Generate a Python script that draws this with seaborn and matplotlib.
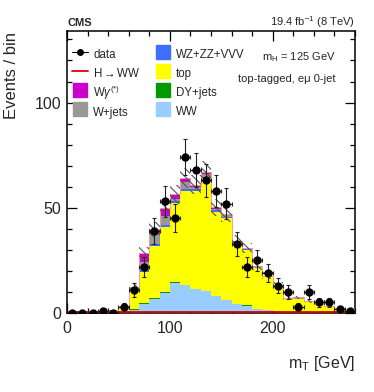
import numpy as np
import pandas as pd
import matplotlib
matplotlib.use("Agg")
import matplotlib.pyplot as plt
import seaborn as sns
from matplotlib.lines import Line2D
from matplotlib.ticker import MultipleLocator

# ---------------- data ----------------
bin_edges = list(range(0, 290, 10))
data_counts = [0, 0, 0, 1, 0, 3, 11, 22, 39, 53, 45, 74, 68, 63, 58, 52,
               33, 22, 25, 19, 13, 10, 3, 10, 5, 5, 2, 1]
data_err = [0, 0, 0, 1.0, 0, 1.7, 3.3, 4.7, 6.2, 7.3, 6.7, 8.6, 8.2, 7.9, 7.6, 7.2,
            5.7, 4.7, 5.0, 4.4, 3.6, 3.2, 1.7, 3.2, 2.2, 2.2, 1.4, 1.0]
ww = [0, 0, 0, 0.05, 0.1, 0.3, 1.2, 4.1, 6.5, 9.4, 14.1, 13.2, 11.3, 10.3, 8.1, 6.2,
      4.4, 3.5, 2.0, 1.5, 0.8, 0.6, 0.5, 0.4, 0.3, 0.3, 0.2, 0.2]
dy = [0, 0, 0, 0, 0, 0.1, 0.5, 0.8, 0.6, 0.5, 0.4, 0.3, 0.3, 0.2, 0.2, 0.2,
      0.1, 0.1, 0.1, 0.1, 0.1, 0.1, 0.1, 0.1, 0.1, 0.1, 0.1, 0.1]
top = [0.1, 0.1, 0.2, 0.4, 1.0, 2.6, 9.6, 14.5, 24.5, 30.9, 37.7, 44.6, 46.6, 53.7, 39.9, 38.8,
       28.8, 26.3, 19.3, 15.5, 12.0, 6.1, 6.1, 4.7, 3.7, 2.8, 2.0, 1.5]
wz = [0, 0, 0, 0, 0, 0.05, 0.2, 1.1, 1.3, 1.1, 0.8, 0.9, 0.7, 0.6, 0.6, 0.6,
      0.3, 0.3, 0.2, 0.2, 0.1, 0.1, 0.1, 0.1, 0.1, 0.1, 0.05, 0.05]
wjets = [0, 0, 0, 0, 0.05, 0.1, 0.5, 3.9, 4.6, 4.0, 1.1, 3.2, 0.8, 1.3, 0.6, 0.6,
         0.3, 0.3, 0.2, 0.2, 0.2, 0.1, 0.1, 0.1, 0.1, 0.1, 0.1, 0.1]
wgamma = [0, 0, 0, 0.05, 0.05, 0.1, 0.5, 4.0, 2.3, 3.9, 2.4, 1.9, 1.3, 0.9, 0.9, 0.6,
          0.5, 0.5, 0.4, 0.3, 0.3, 0.2, 0.6, 0.2, 0.2, 0.1, 0.1, 0.1]
hww = [0.3, 0.3, 0.3, 0.3, 0.3, 0.3, 0.4, 0.4, 0.4, 0.4, 0.4, 0.4, 0.4, 0.4, 0.4, 0.4,
       0.3, 0.3, 0.3, 0.3, 0.3, 0.3, 0.3, 0.3, 0.3, 0.3, 0.3, 0.3]
mc_unc = [0.05, 0.05, 0.1, 0.2, 0.3, 0.6, 1.5, 3.0, 3.6, 4.2, 4.5, 4.8, 4.6, 5.0, 4.0, 3.6,
          2.8, 2.5, 1.9, 1.6, 1.3, 0.8, 0.8, 0.7, 0.6, 0.5, 0.4, 0.3]

processes = ["WW", "DY+jets", "top", "WZ+ZZ+VVV", "W+jets", "W$\\gamma^{(*)}$"]
proc_values = [ww, dy, top, wz, wjets, wgamma]
proc_colors = ["#99ccff", "#009900", "#ffff00", "#3f6fff", "#999999", "#cc00cc"]

# ---------------- style ----------------
sns.set_theme(style="ticks")
plt.rcParams["font.family"] = ["Liberation Sans", "DejaVu Sans"]
plt.rcParams["mathtext.fontset"] = "custom"
plt.rcParams["mathtext.rm"] = "Liberation Sans"
plt.rcParams["mathtext.it"] = "Liberation Sans:italic"
plt.rcParams["hatch.linewidth"] = 0.8

edges = np.array(bin_edges, dtype=float)
centers = 0.5 * (edges[:-1] + edges[1:])
width = edges[1] - edges[0]

rows = []
for name, vals in zip(processes, proc_values):
    for c, v in zip(centers, vals):
        rows.append({"mT": float(c), "w": float(v), "process": name})
df = pd.DataFrame(rows)

fig = plt.figure(figsize=(3.74, 3.92), dpi=100)
ax = fig.add_axes([67 / 374, 1 - 313 / 392, 288 / 374, 282 / 392])

sns.histplot(data=df, x="mT", weights="w", hue="process", hue_order=processes[::-1],
             multiple="stack", bins=bin_edges, palette=dict(zip(processes, proc_colors)),
             element="step", alpha=1, linewidth=0, legend=False, ax=ax)

total = np.sum(np.array(proc_values), axis=0)
unc = np.array(mc_unc)
ax.stairs(total, edges, color="#ff9999", lw=0.7, zorder=3)
ax.bar(centers, 2 * unc, bottom=total - unc, width=width, fill=False,
       hatch="\\\\\\\\", edgecolor="#555555", linewidth=0, zorder=4)
ax.stairs(hww, edges, color="#dd0000", lw=1.3, zorder=5)

ax.errorbar(centers, data_counts, yerr=data_err, xerr=width / 2, fmt="none",
            ecolor="#222222", elinewidth=0.8, capsize=1.5, capthick=0.8, zorder=6)
sns.scatterplot(x=centers, y=data_counts, color="black", s=36, edgecolor="black",
                linewidth=0, zorder=7, ax=ax)

ax.set_xlim(0, 280)
ax.set_ylim(0, 134)
ax.xaxis.set_major_locator(MultipleLocator(100))
ax.xaxis.set_minor_locator(MultipleLocator(20))
ax.yaxis.set_major_locator(MultipleLocator(50))
ax.yaxis.set_minor_locator(MultipleLocator(10))
ax.tick_params(which="both", direction="in", top=True, right=True, labelsize=11.5,
               width=0.9, color="black")
ax.tick_params(which="major", length=7)
ax.tick_params(which="minor", length=3.5)
ax.tick_params(axis="x", which="major", pad=6)
ax.tick_params(axis="y", which="major", pad=4)
for s in ax.spines.values():
    s.set_linewidth(1.1)
    s.set_color("black")

ax.set_xlabel("m$_{\\mathrm{T}}$ [GeV]", fontsize=11.5, loc="right")
ax.xaxis.set_label_coords(1.0, -0.145)
ax.set_ylabel("")
fig.text(12 / 374, 1 - 32 / 392, "Events / bin", fontsize=12, rotation=90,
         ha="center", va="top")

fig.text(67 / 374, 1 - 23 / 392, "CMS", fontsize=8, fontweight="bold", ha="left", va="center")
fig.text(355 / 374, 1 - 22 / 392, "19.4 fb$^{-1}$ (8 TeV)", fontsize=8, ha="right", va="center")
fig.text(336 / 374, 1 - 57 / 392, "m$_{\\mathrm{H}}$ = 125 GeV", fontsize=8, ha="right", va="center")
fig.text(336 / 374, 1 - 79 / 392, "top-tagged, e\u03bc 0-jet", fontsize=8, ha="right", va="center")


def square(color):
    return Line2D([], [], marker="s", markersize=10.5, markerfacecolor=color,
                  markeredgecolor=color, linestyle="none")


handles = [
    Line2D([], [], color="black", marker="o", markersize=4, lw=0.8),
    Line2D([], [], color="#dd0000", lw=1.3),
    square("#cc00cc"),
    square("#999999"),
    square("#3f6fff"),
    square("#ffff00"),
    square("#009900"),
    square("#99ccff"),
]
labels = ["data", "H$\\rightarrow$WW", "W$\\gamma^{(*)}$", "W+jets",
          "WZ+ZZ+VVV", "top", "DY+jets", "WW"]
ax.legend(handles, labels, ncol=2, loc="upper left",
          bbox_to_anchor=(72 / 374, 1 - 45.5 / 392), bbox_transform=fig.transFigure,
          frameon=False, fontsize=8.3, handlelength=1.4, handleheight=2.0,
          handletextpad=0.45, labelspacing=0.1, columnspacing=1.2,
          borderpad=0, borderaxespad=0)

fig.savefig("out.png", dpi=100)
